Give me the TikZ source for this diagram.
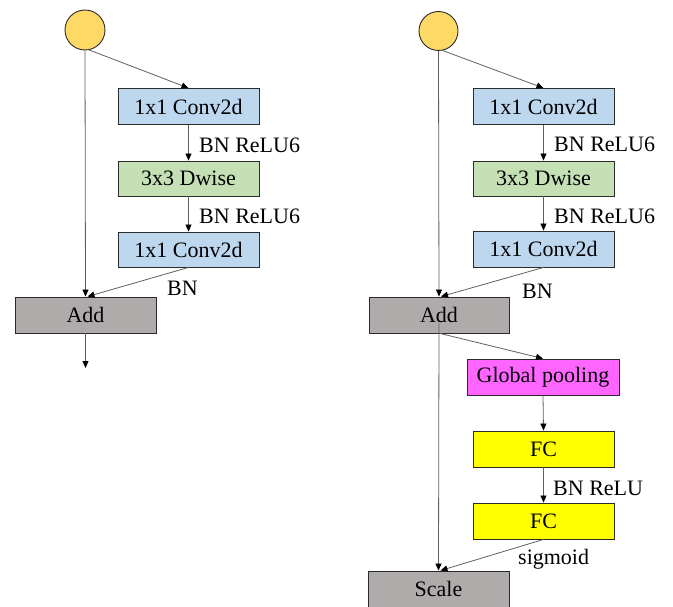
\documentclass[tikz,border=0pt]{standalone}
\usepackage{fontspec}
\setmainfont{Liberation Serif}
\usetikzlibrary{arrows.meta}
\definecolor{cblue}{HTML}{BDD7EE}
\definecolor{cgreen}{HTML}{C5E0B4}
\definecolor{cgray}{HTML}{AFABAB}
\definecolor{cyel}{HTML}{FFFF00}
\definecolor{cmag}{HTML}{FF66FF}
\definecolor{ccirc}{HTML}{FFD966}
\definecolor{cline}{HTML}{606060}
\definecolor{cedge}{HTML}{2B2B2B}
\begin{document}
\begin{tikzpicture}[x=1pt,y=-1pt,
  box/.style={draw=cedge,line width=0.9pt,minimum width=141pt,minimum height=36pt,inner sep=0pt,font=\fontsize{22}{24}\selectfont},
  circ/.style={circle,draw=cedge,line width=0.9pt,fill=ccirc,minimum size=40pt,inner sep=0pt},
  lbl/.style={anchor=west,inner sep=0pt,font=\fontsize{22}{24}\selectfont},
  conn/.style={draw=cline,line width=0.8pt,-{Triangle[length=7pt,width=6pt,fill=black,color=black]}},
  plain/.style={draw=cline,line width=0.8pt}]
\useasboundingbox (0,0) rectangle (673,607);
% Left
\node[circ] (circL) at (85,30) {};
\node[box,fill=cblue] (c1L) at (188.5,106.5) {1x1 Conv2d};
\node[box,fill=cgreen,minimum height=35pt] (dwL) at (188.5,178.5) {3x3 Dwise};
\node[box,fill=cblue,minimum height=35pt] (c2L) at (188.5,249.5) {1x1 Conv2d};
\node[box,fill=cgray] (addL) at (85.5,315) {Add};
\coordinate (outL) at (85.5,368);
\draw[conn] (circL.south) -- (addL.north);
\draw[conn] (circL.-78) -- (c1L.north);
\draw[conn] (c1L.south) -- (dwL.north);
\draw[conn] (dwL.south) -- (c2L.north);
\draw[conn] (c2L.south) -- ([xshift=2pt]addL.north);
\draw[conn] (addL.south) -- (outL);
\node[lbl] (l1L) at (199,145) {BN ReLU6};
\node[lbl] (l2L) at (199,216) {BN ReLU6};
\node[lbl] (l3L) at (167,288) {BN};
% Right
\node[circ,minimum size=39pt] (circR) at (438.5,31) {};
\node[box,fill=cblue] (c1R) at (543.5,106.5) {1x1 Conv2d};
\node[box,fill=cgreen,minimum height=35pt] (dwR) at (543.5,178.5) {3x3 Dwise};
\node[box,fill=cblue] (c2R) at (543.5,249) {1x1 Conv2d};
\node[box,fill=cgray,minimum width=140pt] (addR) at (439,315) {Add};
\node[box,fill=cmag,minimum width=152pt] (gp) at (543,377) {Global pooling};
\node[box,fill=cyel] (fc1) at (543.5,449) {FC};
\node[box,fill=cyel] (fc2) at (543.5,521) {FC};
\node[box,fill=cgray] (scale) at (438.5,589) {Scale};
\draw[conn] (circR.south) -- (addR.north);
\draw[conn] (circR.-78) -- (c1R.north);
\draw[conn] (c1R.south) -- (dwR.north);
\draw[conn] (dwR.south) -- (c2R.north);
\draw[conn] (c2R.south) -- ([xshift=2pt]addR.north);
\draw[conn] ([yshift=10pt]addR.south) -- (scale.north);
\draw[conn] ([xshift=1pt]addR.south) -- (gp.north);
\draw[conn] (gp.south) -- (fc1.north);
\draw[conn] (fc1.south) -- (fc2.north);
\draw[conn] (fc2.south) -- ([xshift=2pt]scale.north);
\node[lbl] (l1R) at (554,144) {BN ReLU6};
\node[lbl] (l2R) at (554,216) {BN ReLU6};
\node[lbl] (l3R) at (522,291) {BN};
\node[lbl] (l4R) at (553,488) {BN ReLU};
\node[lbl] (l5R) at (518,559) {sigmoid};
\end{tikzpicture}
\end{document}
